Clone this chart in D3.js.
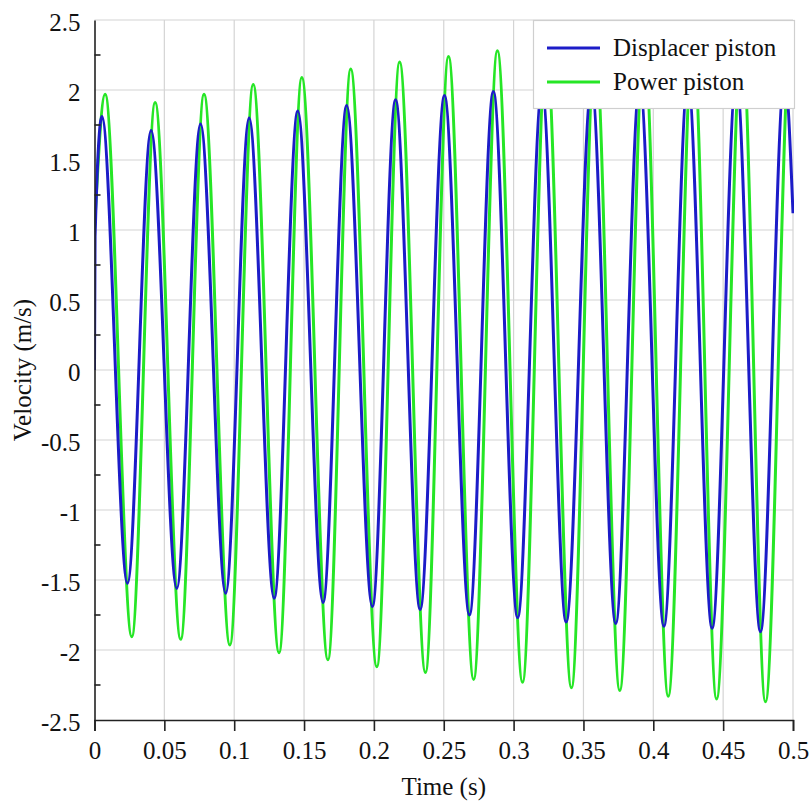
<!DOCTYPE html>
<html><head><meta charset="utf-8">
<script src="https://cdn.jsdelivr.net/npm/d3@7"></script>
<style>body{margin:0;background:#fff}svg{display:block}</style>
</head><body><svg id="c" width="811" height="806"></svg>
<script>
// Displacer piston: extrema (time s, velocity m/s)
const dispT = [0, 0.0004, 0.0053, 0.0236, 0.0405, 0.0589, 0.0759, 0.0939, 0.1107, 0.1286, 0.1455, 0.1636, 0.1805, 0.1989, 0.2155, 0.2331, 0.2505, 0.2684, 0.2855, 0.3029, 0.3203, 0.3376, 0.3558, 0.3731, 0.3903, 0.4076, 0.4248, 0.4421, 0.4594, 0.4767, 0.494, 0.5];
const dispV = [0, 0.95, 1.81, -1.524, 1.71, -1.56, 1.757, -1.595, 1.80, -1.63, 1.85, -1.66, 1.89, -1.69, 1.93, -1.71, 1.96, -1.75, 1.99, -1.77, 2.01, -1.80, 2.03, -1.81, 2.05, -1.83, 2.07, -1.845, 2.09, -1.87, 2.10, 1.12];
// Power piston
const powT = [0, 0.0076, 0.0267, 0.0434, 0.0617, 0.0784, 0.0969, 0.1136, 0.1321, 0.1484, 0.1671, 0.1834, 0.2021, 0.2184, 0.2369, 0.2534, 0.2714, 0.2884, 0.3064, 0.3234, 0.3414, 0.3584, 0.376, 0.3934, 0.4107, 0.4284, 0.4453, 0.4634, 0.4803, 0.4985, 0.5];
const powV = [1.0, 1.97, -1.905, 1.91, -1.924, 1.97, -1.964, 2.04, -2.02, 2.09, -2.07, 2.15, -2.12, 2.20, -2.16, 2.24, -2.21, 2.28, -2.23, 2.31, -2.27, 2.34, -2.29, 2.36, -2.33, 2.38, -2.35, 2.40, -2.37, 2.41, 2.40];
const xTicks = [0, 0.05, 0.1, 0.15, 0.2, 0.25, 0.3, 0.35, 0.4, 0.45, 0.5];
const yTicks = [-2.5, -2, -1.5, -1, -0.5, 0, 0.5, 1, 1.5, 2, 2.5];
const yMinor = [-2.25, -1.75, -1.25, -0.75, -0.25, 0.25, 0.75, 1.25, 1.75, 2.25];
const seriesNames = ["Displacer piston", "Power piston"];
const colors = ["#1c1cc8", "#26e626"];

const font = '"Liberation Serif", "Times New Roman", serif';
const fs = 25;

const svg = d3.select("#c").attr("font-family", font);
const L = 94.5, R = 793, T = 20, B = 720;
const x = d3.scaleLinear().domain([0, 0.5]).range([L, R]);
const y = d3.scaleLinear().domain([-2.5, 2.5]).range([B, T]);
const fmt = d => d3.format("~g")(d).replace("\u2212", "-");

// grid
svg.append("g").selectAll("line").data(xTicks.slice(1)).join("line")
  .attr("x1", d => x(d)).attr("x2", d => x(d)).attr("y1", T).attr("y2", B)
  .attr("stroke", "#d4d4d4").attr("stroke-width", 1.2);
svg.append("g").selectAll("line").data(yTicks.slice(1)).join("line")
  .attr("y1", d => y(d)).attr("y2", d => y(d)).attr("x1", L).attr("x2", R)
  .attr("stroke", "#d4d4d4").attr("stroke-width", 1.2);

// lines
svg.append("clipPath").attr("id", "clip").append("rect")
  .attr("x", L).attr("y", T - 2).attr("width", R - L + 1).attr("height", B - T + 4);
const line = d3.line().x(d => x(d[0])).y(d => y(d[1])).curve(d3.curveMonotoneX);
const sets = [d3.zip(dispT, dispV), d3.zip(powT, powV)];
const gl = svg.append("g").attr("clip-path", "url(#clip)");
[1, 0].forEach(i => {
  gl.append("path").datum(sets[i]).attr("d", line)
    .attr("fill", "none").attr("stroke", colors[i]).attr("stroke-width", 3)
    .attr("stroke-linejoin", "round");
});

// axes
const xAxis = d3.axisBottom(x).tickValues(xTicks).tickSize(11).tickPadding(10).tickFormat(fmt);
const gx = svg.append("g").attr("transform", `translate(0,${B})`).call(xAxis);
const yAxis = d3.axisLeft(y).tickValues(yTicks).tickSize(0).tickPadding(14).tickFormat(fmt);
const gy = svg.append("g").attr("transform", `translate(${L},0)`).call(yAxis);
[gx, gy].forEach(g => {
  g.attr("font-family", font).attr("font-size", fs);
  g.select(".domain").attr("stroke", "#222").attr("stroke-width", 1.6);
  g.selectAll(".tick line").attr("stroke", "#222").attr("stroke-width", 1.6);
  g.selectAll("text").attr("fill", "#111");
});
gy.selectAll(".tick text").attr("dy", "0.42em");
gy.append("g").selectAll("line").data(yMinor).join("line")
  .attr("x1", 0).attr("x2", 6).attr("y1", d => y(d)).attr("y2", d => y(d))
  .attr("stroke", "#222").attr("stroke-width", 1.6);

// axis titles
svg.append("text").attr("x", (L + R) / 2).attr("y", 795).attr("text-anchor", "middle")
  .attr("font-size", fs).attr("fill", "#111").text("Time (s)");
svg.append("text").attr("transform", `translate(31,${(T + B) / 2}) rotate(-90)`)
  .attr("text-anchor", "middle").attr("font-size", fs)
  .attr("fill", "#111").text("Velocity (m/s)");

// legend
const lg = svg.append("g");
lg.append("rect").attr("x", 533.5).attr("y", 20.5).attr("width", 261).attr("height", 88)
  .attr("fill", "#fff").attr("stroke", "#cfcfcf").attr("stroke-width", 1.2);
seriesNames.forEach((n, i) => {
  const yy = 48 + i * 34;
  lg.append("line").attr("x1", 547).attr("x2", 600).attr("y1", yy).attr("y2", yy)
    .attr("stroke", colors[i]).attr("stroke-width", 3);
  lg.append("text").attr("x", 613).attr("y", yy + 8)
    .attr("font-size", fs).attr("fill", "#111").text(n);
});
</script></body></html>
